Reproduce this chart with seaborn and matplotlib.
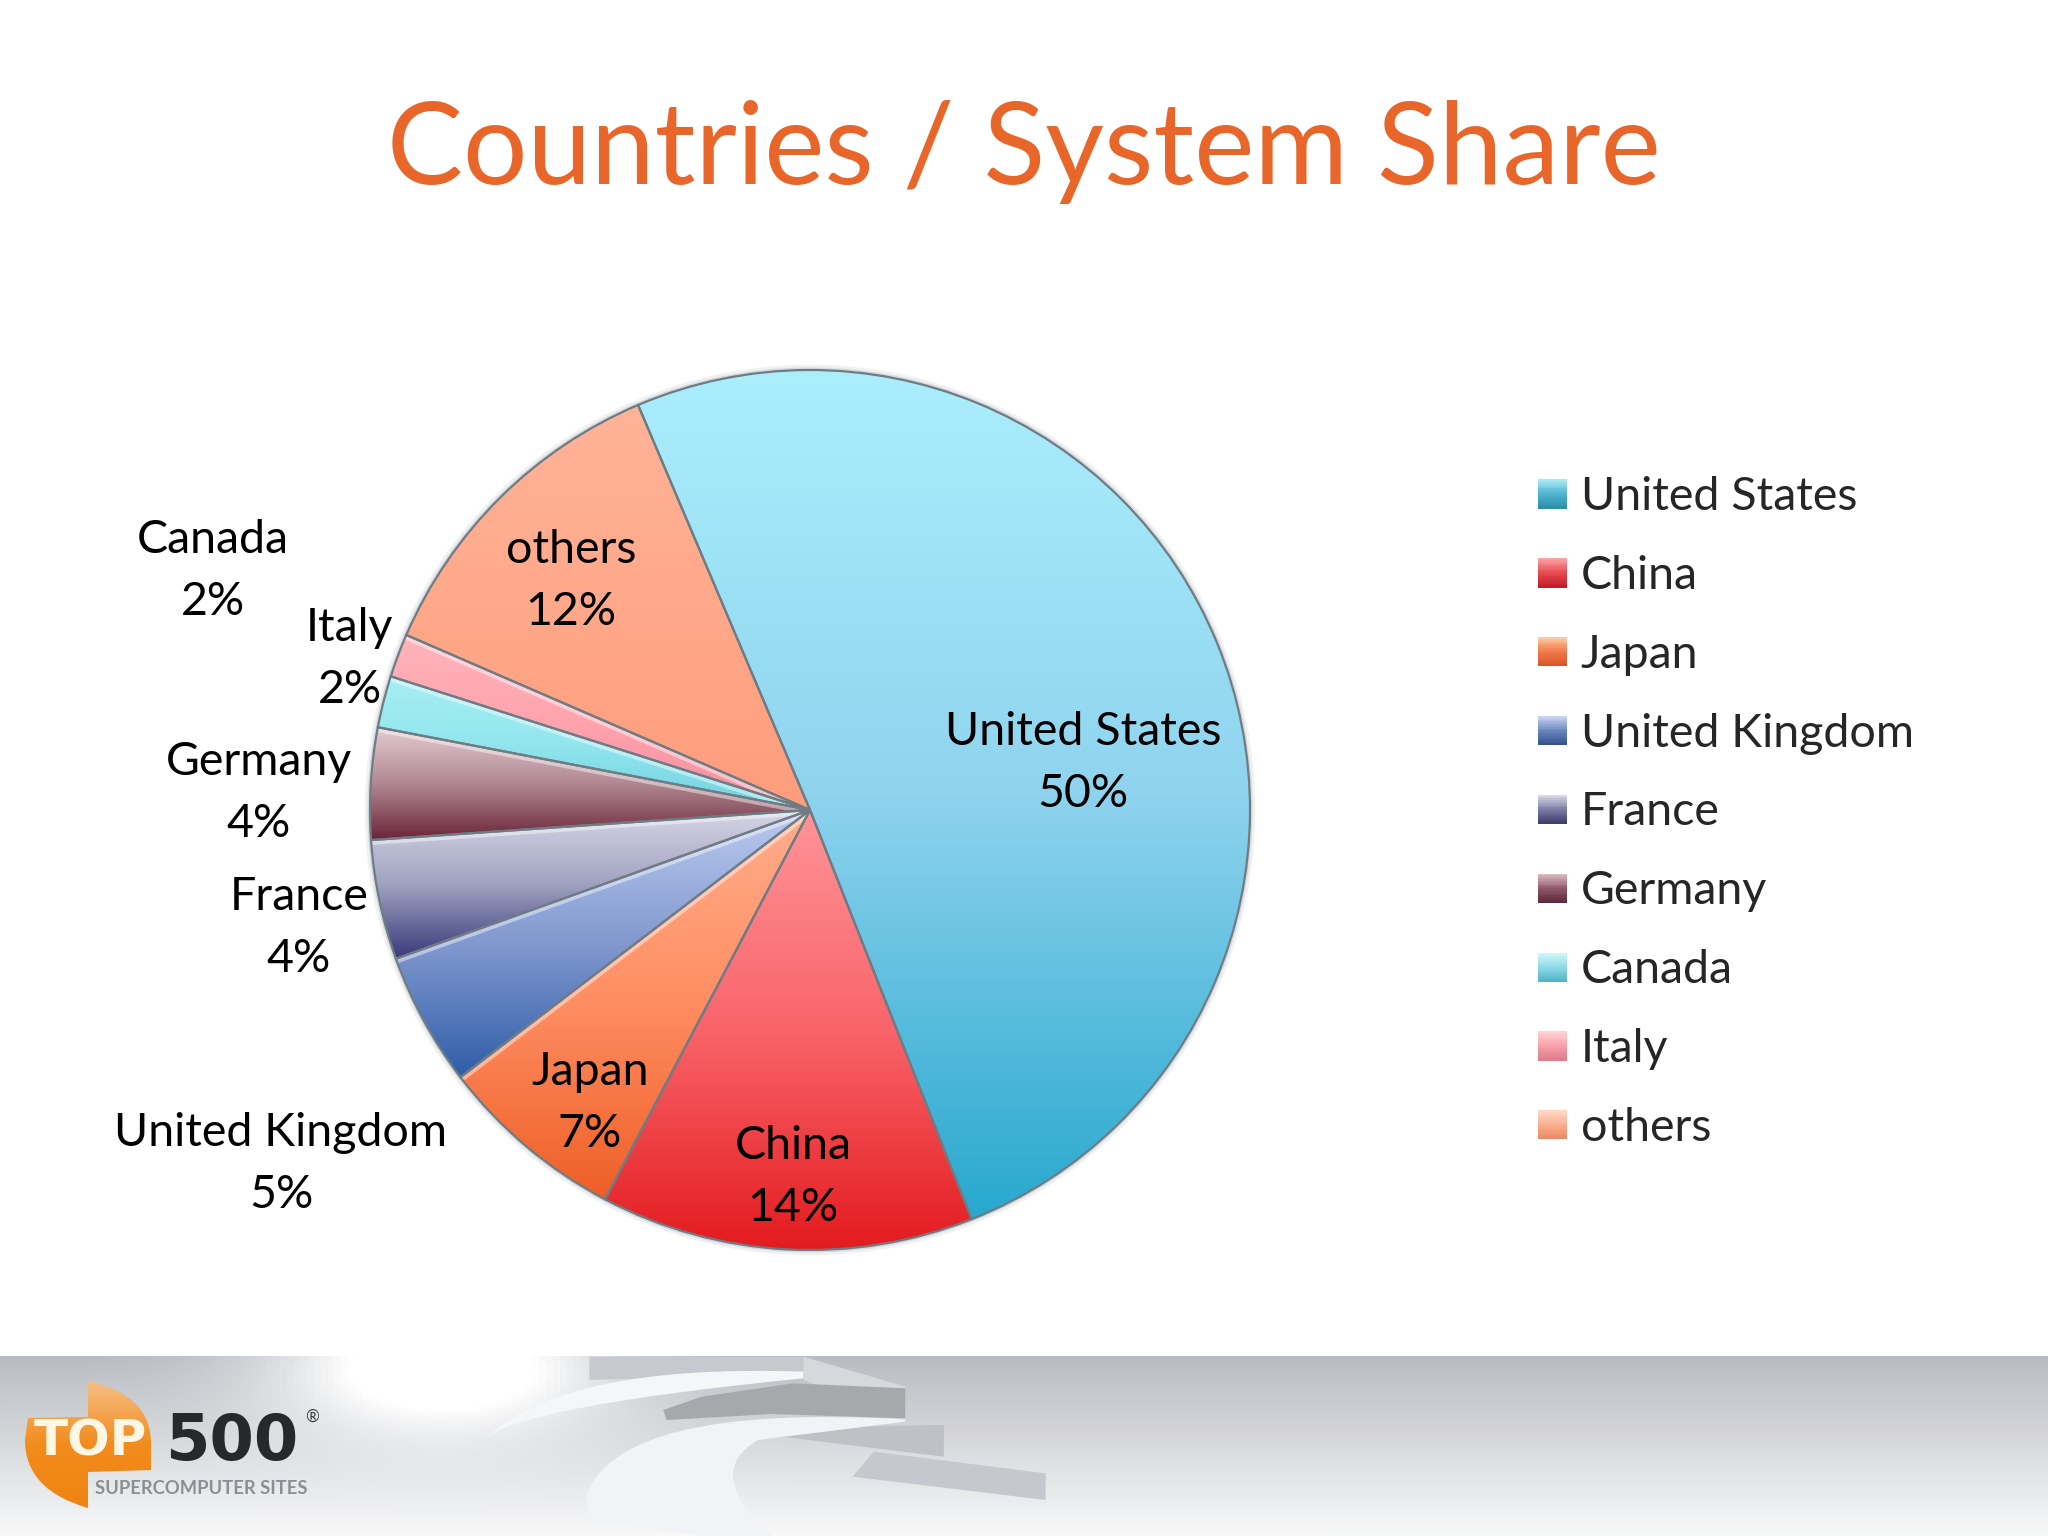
#!/usr/bin/env python3
"""
Countries / System Share pie, slide style
"""

import numpy as np
import matplotlib
matplotlib.use('Agg')
import matplotlib.pyplot as plt
import seaborn as sns
from matplotlib.legend_handler import HandlerBase
from matplotlib.patches import Circle, Patch, PathPatch, Polygon, Rectangle
from matplotlib.path import Path

# Data
countries = ['United States', 'China', 'Japan', 'United Kingdom', 'France',
             'Germany', 'Canada', 'Italy', 'others']
shares = [50.4, 13.7, 6.9, 4.9, 4.4, 4.1, 1.9, 1.6, 12.1]
share_labels = ['50%', '14%', '7%', '5%', '4%', '4%', '2%', '2%', '12%']

# top-to-bottom colours of each slice
slice_colors = [
    ['#ABEFFD', '#8FD3EE', '#28A8CE'],
    ['#FF9498', '#F9646A', '#E31B1F'],
    ['#FFAE8C', '#FF8D62', '#EE5F26'],
    ['#BCCAF0', '#8299CF', '#2F5DA8'],
    ['#D6D6E6', '#A0A2C0', '#38397A'],
    ['#E4CBD1', '#B08893', '#6C2438'],
    ['#A8EEF4', '#92E6EE', '#6FD2E0'],
    ['#FFB4BC', '#FFA4AE', '#F38D9C'],
    ['#FFB398', '#FFA88A', '#FF9D7C'],
]
legend_colors = [
    ['#A8E8F4', '#4FB4D0', '#2F8FAE'],
    ['#F9A0A4', '#E84A50', '#C41E28'],
    ['#FFC8A0', '#F0784A', '#D8582A'],
    ['#C8D4F0', '#6A88BE', '#36558F'],
    ['#D8D8E6', '#7D7EA6', '#3E3F6E'],
    ['#DDBCC4', '#91596A', '#5E2C3C'],
    ['#CFF6FA', '#8FDCE8', '#55B4C8'],
    ['#FFD0D4', '#F8A0AA', '#E07C8C'],
    ['#FFD8C4', '#FBAE90', '#E88C68'],
]

W, H = 2048, 1536
sns.set_theme(style='white')
plt.rcParams['font.family'] = ['Lato', 'DejaVu Sans']
label_size = 33.5

fig = plt.figure(figsize=(W / 100, H / 100), dpi=100, facecolor='white')


def px_axes(x, y, w, h, z):
    """Axes placed with pixel coordinates measured from the top left."""
    return fig.add_axes([x / W, 1 - (y + h) / H, w / W, h / H], zorder=z)


# Footer band
bg = px_axes(0, 0, W, H, 0)
bg.axis('off')

yy, xx = np.mgrid[0:1:90j, 0:1:300j]
band = 0.70 + 0.27 * yy
glow = np.exp(-(((xx - 0.215) / 0.08) ** 2 + ((yy - 0.0) / 0.38) ** 2))
band = np.clip(band + 0.40 * glow, 0, 1)
bg.imshow(band, cmap=sns.blend_palette(['#B4B8BE', '#FFFFFF'], as_cmap=True),
          extent=(0, W, 1536, 1356), vmin=0.68, vmax=1, aspect='auto', zorder=1)
bg.set_xlim(0, W)
bg.set_ylim(H, 0)


def zpts(points):
    # footer shapes were measured on a zoomed crop
    return [(zx / 1.425, 1340 + zy / 3) for zx, zy in points]


def curve(points, **kw):
    verts = zpts(points)
    codes = [Path.MOVETO] + [Path.CURVE3] * (len(verts) - 1)
    bg.add_patch(PathPatch(Path(verts, codes), lw=0, **kw))


bg.add_patch(Polygon(zpts([(840, 50), (1145, 50), (1145, 100), (840, 120)]),
                     fc='#C6C9CD', lw=0, zorder=2))
curve([(1145, 95), (800, 70), (690, 300), (735, 200), (1145, 115)], fc='#F4F6F8', zorder=2)
bg.add_patch(Polygon(zpts([(1145, 50), (1290, 140), (1290, 240), (1145, 120)]),
                     fc='#D6D9DC', lw=0, zorder=2))
bg.add_patch(Polygon(zpts([(945, 210), (1000, 170), (1130, 130), (1290, 145),
                           (1290, 235), (1100, 222), (950, 240)]),
                     fc='#A6A9AC', lw=0, zorder=3))
bg.add_patch(Polygon(zpts([(1075, 265), (1345, 255), (1345, 350), (1075, 280)]),
                     fc='#BEC1C5', lw=0, zorder=3))
bg.add_patch(Polygon(zpts([(1245, 335), (1490, 400), (1490, 480), (1215, 410)]),
                     fc='#C5C8CC', lw=0, zorder=3))
bg.add_patch(PathPatch(Path(zpts([(1290, 238), (880, 190), (835, 470), (840, 540), (1000, 588),
                                  (1100, 588), (1000, 400), (1080, 300), (1290, 245)]),
                            [Path.MOVETO, Path.CURVE3, Path.CURVE3, Path.LINETO, Path.LINETO,
                             Path.LINETO, Path.CURVE3, Path.CURVE3, Path.LINETO]),
                       fc='#F2F3F7', lw=0, zorder=4))

# Logo
logo = PathPatch(Path([(88, 1381), (151, 1395), (151, 1443), (151, 1470), (88, 1472), (88, 1508),
                       (25, 1490), (25, 1440), (28, 1418), (88, 1417), (88, 1381)],
                      [Path.MOVETO, Path.CURVE3, Path.CURVE3, Path.LINETO, Path.LINETO, Path.LINETO,
                       Path.CURVE3, Path.CURVE3, Path.LINETO, Path.LINETO, Path.CLOSEPOLY]),
                 fc='none', lw=0, zorder=5)
bg.add_patch(logo)
logo_fill = bg.imshow(np.linspace(0, 1, 64).reshape(-1, 1), aspect='auto', zorder=5,
                      cmap=sns.blend_palette(['#F6BE84', '#F28C1C', '#EE8412'], as_cmap=True),
                      extent=(25, 151, 1508, 1381))
logo_fill.set_clip_path(logo)
bg.set_xlim(0, W)
bg.set_ylim(H, 0)
bg.text(90, 1442, 'TOP', color='#FFF6E4', fontsize=36, fontweight='bold', family='DejaVu Sans',
        ha='center', va='center', zorder=6)
bg.text(232, 1442, '500', color='#26282C', fontsize=46, fontweight='bold', family='DejaVu Sans',
        ha='center', va='center', zorder=6)
bg.text(95, 1488, 'SUPERCOMPUTER SITES', color='#8A8F96', fontsize=13.2, fontweight='bold',
        ha='left', va='center', zorder=6)
bg.text(312, 1417, '®', color='#3A3C40', fontsize=12, ha='center', va='center', zorder=6)

# Pie
ax = px_axes(360, 360, 900, 900, 1)
ax.set_facecolor('none')
wedges, _ = ax.pie(shares, startangle=113, counterclock=False, radius=1.0,
                   wedgeprops={'linewidth': 1.6, 'edgecolor': '#6F7C84'})
for r, a in [(1.012, 0.10), (1.006, 0.18)]:
    ax.add_patch(Circle((0, 0), r, fc='#6F7C84', alpha=a, lw=0, zorder=0))
for i, (w, cols) in enumerate(zip(wedges, slice_colors)):
    angles = np.radians(np.linspace(w.theta1, w.theta2, 200))
    ys = np.r_[0, np.sin(angles)]
    xs = np.r_[0, np.cos(angles)]
    cmap = sns.blend_palette(cols, n_colors=128, as_cmap=True)
    grad = np.linspace(0, 1, 256).reshape(-1, 1)
    im = ax.imshow(grad, cmap=cmap, aspect='auto', zorder=1,
                   extent=(xs.min(), xs.max(), ys.min(), ys.max()), origin='upper')
    im.set_clip_path(w)
    # bevel along the upper edge of the thin left-hand slices
    if countries[i] in ('Japan', 'United Kingdom', 'France', 'Germany', 'Canada', 'Italy'):
        edge = np.radians(w.theta1)
        line, = ax.plot([0, np.cos(edge)], [0, np.sin(edge)], color='white', lw=7,
                        alpha=0.45, zorder=2, solid_capstyle='butt')
        line.set_clip_path(w)
    w.set_facecolor('none')
    w.set_zorder(3)
ax.set_xlim(-450 / 440, 450 / 440)
ax.set_ylim(-450 / 440, 450 / 440)
ax.set_aspect('equal')
ax.axis('off')

# Overlay for the title, data labels and legend
top = px_axes(0, 0, W, H, 2)
top.set_xlim(0, W)
top.set_ylim(H, 0)
top.set_facecolor('none')
top.axis('off')

top.text(1024, 152, 'Countries / System Share', color='#E8662A', fontsize=82,
         ha='center', va='center')

label_xy = [(1083, 763), (793, 1177), (590, 1103), (281, 1164), (299, 928),
            (259, 793), (213, 571), (350, 659), (571, 581)]
for name, pct, (x, y) in zip(countries, share_labels, label_xy):
    top.text(x, y, f'{name}\n{pct}', color='black', fontsize=label_size,
             ha='center', va='center', linespacing=1.58)


class GradientKey(HandlerBase):
    # legend key drawn as stacked strips so that it keeps the gradient
    def create_artists(self, legend, orig, xd, yd, width, height, fontsize, trans):
        colors = sns.blend_palette(orig.key_colors, n_colors=16)
        side = width
        strips = []
        for i, c in enumerate(colors):
            strips.append(Rectangle((-xd, -yd + side * (1 - (i + 1) / 16)), side, side / 16 + 0.3,
                                    fc=c, ec='none', transform=trans))
        return strips


handles = []
for name, cols in zip(countries, legend_colors):
    h = Patch(label=name)
    h.key_colors = cols
    handles.append(h)

top.legend(handles=handles, loc='upper left', bbox_to_anchor=(1538 / W, 1 - 476 / H),
           frameon=False, fontsize=label_size, labelspacing=0.792, handlelength=0.62,
           handleheight=0.62, handletextpad=0.30, borderpad=0, borderaxespad=0,
           handler_map={Patch: GradientKey()})

fig.savefig('out.png', dpi=100)
